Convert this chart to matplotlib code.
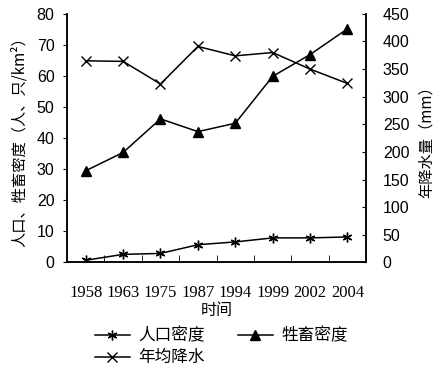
import matplotlib
matplotlib.use("Agg")
import matplotlib.pyplot as plt

plt.rcParams['font.family'] = ['Noto Sans CJK SC', 'DejaVu Sans']

years = ["1958", "1963", "1975", "1987", "1994", "1999", "2002", "2004"]
population = [0.7, 2.6, 2.9, 5.7, 6.6, 7.9, 7.9, 8.2]
livestock = [29.5, 35.4, 46.2, 42.1, 44.8, 59.9, 66.9, 75.2]
rainfall = [365, 364, 323, 391, 374, 380, 350, 324]

x = list(range(len(years)))

fig = plt.figure(figsize=(4.38, 3.65), dpi=100)
ax = fig.add_axes([0.153, 0.281, 0.683, 0.681])
ax2 = ax.twinx()

lw = 1.1
l_pop, = ax.plot(x, population, color="black", lw=lw, marker=(6, 2, 0), ms=7, mew=1.0)
l_liv, = ax.plot(x, livestock, color="black", lw=lw, marker="^", ms=7.5)
l_rain, = ax2.plot(x, rainfall, color="black", lw=lw, marker="x", ms=7.5, mew=1.0)

ax.set_xlim(-0.5, len(years) - 0.5)
ax.set_ylim(0, 80)
ax2.set_ylim(0, 450)
ax.set_yticks(range(0, 81, 10))
ax2.set_yticks(range(0, 451, 50))

ax.set_xticks(x)
ax.set_xticklabels(years, family="Liberation Serif", fontsize=12)
ax.set_xticks([i + 0.5 for i in x[:-1]], minor=True)
ax.tick_params(axis="x", which="major", length=0, pad=16)
ax.tick_params(axis="x", which="minor", direction="in", length=5)
ax.tick_params(axis="y", direction="out", length=3, labelsize=11.5, pad=6)
ax2.tick_params(axis="y", direction="in", length=3, labelsize=11.5, pad=12)
for lab in ax.get_yticklabels() + ax2.get_yticklabels():
    lab.set_family("Liberation Sans")

for a in (ax, ax2):
    a.spines["top"].set_visible(False)
    for s in ("left", "right", "bottom"):
        a.spines[s].set_linewidth(1.1)

ax.set_xlabel("时间", fontsize=11.5, labelpad=1)
ax.set_ylabel("人口、牲畜密度（人、只/km²）", fontsize=11, labelpad=6)
ax2.set_ylabel("年降水量（mm）", fontsize=11, labelpad=6)

fig.legend([l_pop, l_rain, l_liv], ["人口密度", "年均降水", "牲畜密度"],
           ncol=2, loc="lower left", bbox_to_anchor=(0.182, -0.045),
           frameon=False, fontsize=12, handlelength=2.1,
           columnspacing=2.0, labelspacing=0.3, handletextpad=0.5)

fig.savefig("out.png", dpi=100)
